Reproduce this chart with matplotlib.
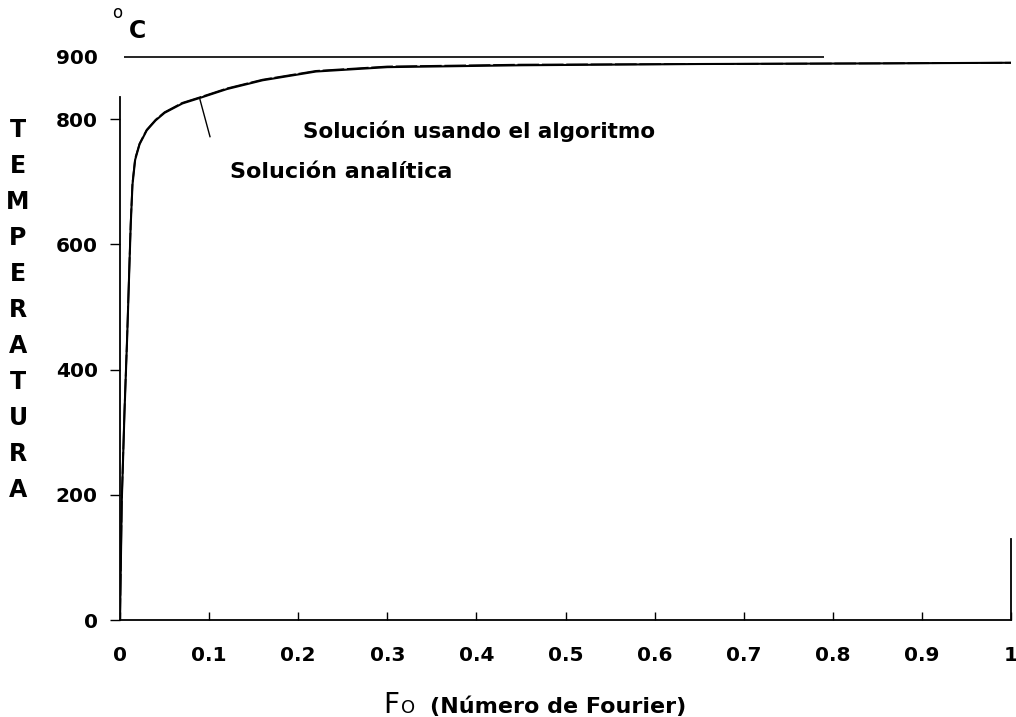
import matplotlib
matplotlib.use("Agg")
import matplotlib.pyplot as plt

# ---- data ----
fourier = [0.0, 0.002, 0.005, 0.008, 0.010, 0.012, 0.014, 0.017, 0.022, 0.03,
           0.04, 0.05, 0.07, 0.09, 0.12, 0.16, 0.22, 0.3, 0.45, 0.65, 0.85, 1.0]
temp_analitica = [0, 190, 330, 450, 540, 630, 695, 735, 760, 782,
                  798, 810, 825, 834, 848, 862, 876, 883, 886, 888, 889, 890]
temp_algoritmo = [0, 192, 333, 452, 543, 633, 698, 737, 761, 783,
                  799, 811, 826, 835, 849, 863, 877, 884, 887, 888, 889, 890]

x_ticks = [0, 0.1, 0.2, 0.3, 0.4, 0.5, 0.6, 0.7, 0.8, 0.9, 1.0]
x_tick_labels = ["0", "0.1", "0.2", "0.3", "0.4", "0.5", "0.6", "0.7", "0.8", "0.9", "1"]
y_ticks = [0, 200, 400, 600, 800, 900]
y_tick_labels = ["0", "200", "400", "600", "800", "900"]

ylabel_text = "TEMPERATURA"
xlabel_main = "F"
xlabel_main2 = "O"
xlabel_sub = "(Número de Fourier)"
label_algoritmo = "Solución usando el algoritmo"
label_analitica = "Solución analítica"

fig = plt.figure(figsize=(10.16, 7.17), dpi=100)
ax = fig.add_axes([120 / 1016, 1 - 620 / 717, 891 / 1016, (620 - 56.5) / 717])
ax.set_xlim(0, 1)
ax.set_ylim(0, 900)

ax.plot(fourier, temp_analitica, color="black", lw=1.5, solid_capstyle="butt")
ax.plot(fourier, temp_algoritmo, color="black", lw=1.3, ls=(0, (12, 1.5)))

# top reference line at 900
ax.hlines(900, 0.005, 0.79, color="black", lw=1.2, clip_on=False)

# leader line
ax.plot([0.0898, 0.101], [831, 772], color="black", lw=1.0)

ax.spines["top"].set_visible(False)
ax.spines["left"].set_bounds(0, 835)
ax.spines["right"].set_bounds(0, 130)
for s in ["left", "right", "bottom"]:
    ax.spines[s].set_linewidth(1.3)

ax.set_xticks(x_ticks)
ax.set_xticklabels(x_tick_labels)
ax.set_yticks(y_ticks)
ax.set_yticklabels(y_tick_labels)
ax.tick_params(axis="x", direction="in", length=6, width=1.0, pad=19,
               labelsize=14.5)
ax.tick_params(axis="y", direction="out", length=7, width=1.0, pad=9,
               labelsize=14.5)
for lab in ax.get_xticklabels() + ax.get_yticklabels():
    lab.set_fontweight("bold")
ax.yaxis.get_major_ticks()[-1].tick1line.set_visible(False)

ax.text(0.205, 781, label_algoritmo, fontsize=15.5, fontweight="bold",
        ha="left", va="center")
ax.text(0.124, 716, label_analitica, fontsize=16, fontweight="bold",
        ha="left", va="center")

# units
fig.text(117 / 1016, 1 - 13 / 717, "o", fontsize=12, ha="center", va="center")
fig.text(138 / 1016, 1 - 31 / 717, "C", fontsize=17, ha="center", va="center",
         fontweight="bold")

# vertical stacked y label
fig.text(18 / 1016, 1 - 310 / 717, "\n".join(ylabel_text), fontsize=17,
         fontweight="bold", ha="center", va="center", linespacing=1.63)

# x label
fig.text(383 / 1016, 1 - 713 / 717, xlabel_main, fontsize=20, ha="left",
         va="baseline")
fig.text(401 / 1016, 1 - 713 / 717, xlabel_main2, fontsize=13, ha="left",
         va="baseline")
fig.text(430 / 1016, 1 - 713 / 717, xlabel_sub, fontsize=16, ha="left",
         va="baseline", fontweight="bold")

fig.savefig("out.png", dpi=100)
